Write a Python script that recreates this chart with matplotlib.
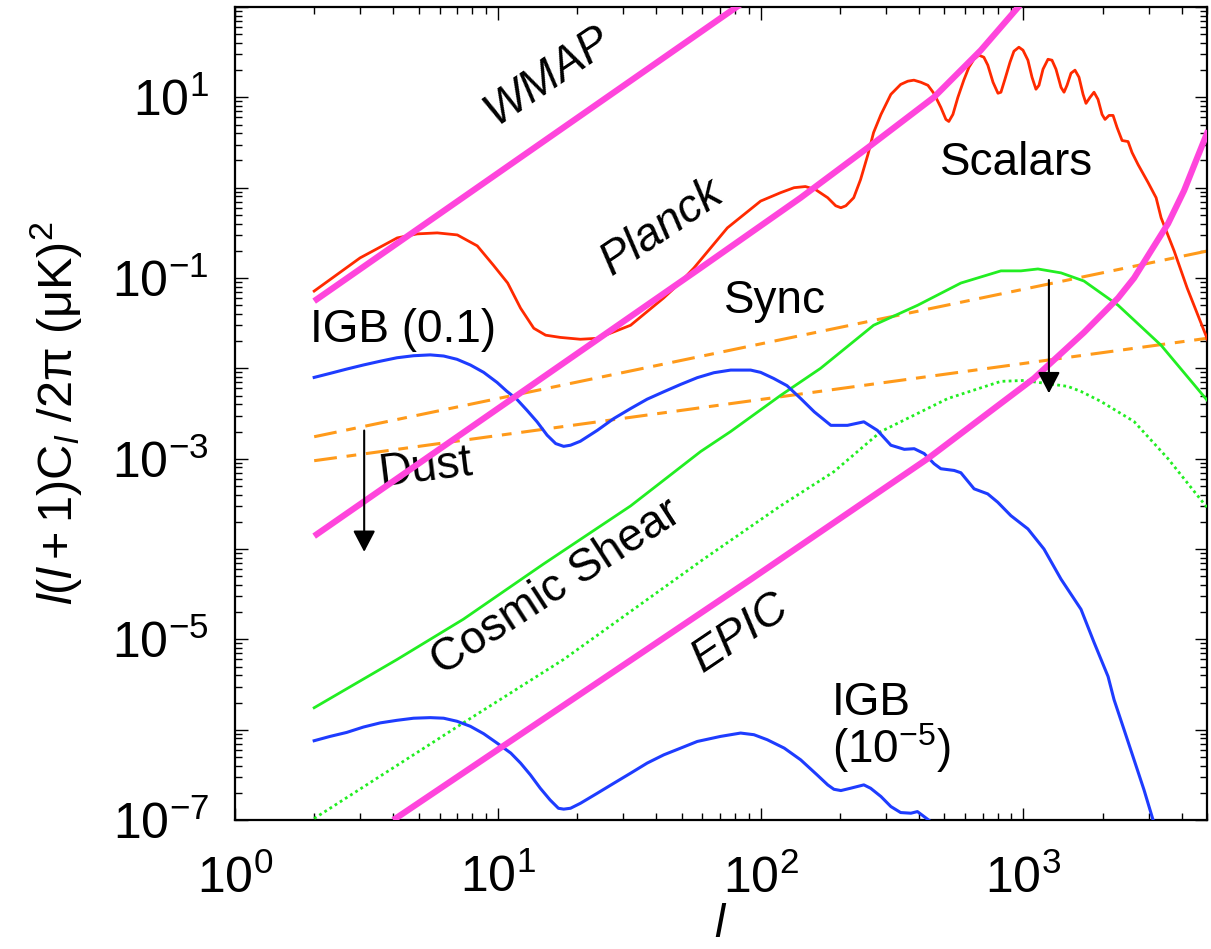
import numpy as np
import matplotlib
matplotlib.use('Agg')
import matplotlib.pyplot as plt
from matplotlib.ticker import FixedLocator, FuncFormatter, LogLocator, NullFormatter

plt.rcParams['font.family'] = ['Liberation Sans', 'DejaVu Sans']
plt.rcParams['mathtext.fontset'] = 'custom'
plt.rcParams['mathtext.rm'] = 'Liberation Sans'
plt.rcParams['mathtext.it'] = 'Liberation Sans:italic'
plt.rcParams['mathtext.bf'] = 'Liberation Sans:bold'
plt.rcParams['mathtext.sf'] = 'Liberation Sans'

# ---------------- data ----------------
scalars_l = [2, 2.99, 4.14, 4.93, 5.88, 7.01, 8.35, 9.61, 10.9, 12.2, 13.7, 15.2, 17.3,
             20.6, 23.9, 32.0, 42.7, 48.3, 55.7, 74.7, 100, 119, 134, 148, 162, 180,
             193, 202, 211, 226, 240, 256, 269, 287, 313, 341, 363, 383, 407, 433, 456,
             485, 507, 520, 539, 563, 593, 620, 648, 677, 707, 732, 766, 800, 821, 850,
             889, 920, 961, 996, 1040, 1078, 1116, 1146, 1187, 1240, 1284, 1330, 1390,
             1427, 1465, 1517, 1571, 1627, 1686, 1730, 1792, 1856, 1922, 1991, 2044,
             2117, 2193, 2271, 2373, 2501, 2590, 2731, 2981, 3198, 3341, 3744, 4198, 5046]
scalars_v = [0.0717, 0.167, 0.278, 0.308, 0.316, 0.300, 0.227, 0.139, 0.088, 0.0464,
             0.0278, 0.0233, 0.0220, 0.021, 0.0215, 0.030, 0.060, 0.0836, 0.129, 0.359,
             0.711, 0.88, 1.0, 1.03, 0.95, 0.774, 0.631, 0.60, 0.631, 0.774, 1.23, 2.33,
             4.08, 6.47, 10.8, 13.9, 15.1, 15.5, 14.7, 13.6, 11.1, 7.74, 5.70, 5.41, 6.47,
             10.0, 15.5, 21.5, 26.4, 29.3, 27.8, 22.7, 14.7, 11.1, 11.4, 15.8, 24.5, 32.4,
             35.9, 33.3, 25.8, 16.7, 12.3, 13.6, 20.5, 26.4, 25.8, 20.5, 12.9, 11.4, 13.6,
             18.5, 20.0, 16.7, 10.8, 8.58, 10.0, 11.4, 9.5, 6.47, 5.70, 6.31, 6.31, 4.64,
             3.33, 3.24, 2.45, 1.80, 1.14, 0.774, 0.464, 0.20, 0.0774, 0.020]

shear_l = [2, 4.14, 7.39, 14.9, 32.0, 59.1, 76.9, 119, 169, 269, 396, 578, 821, 978,
           1135, 1390, 1700, 2291, 3341, 5046]
shear_v = [1.75e-6, 6.0e-6, 1.67e-5, 6.81e-5, 3.0e-4, 1.2e-3, 2.0e-3, 5.01e-3, 0.010,
           0.030, 0.050, 0.088, 0.12, 0.12, 0.126, 0.114, 0.0926, 0.050, 0.018, 4.3e-3]

shear_res_l = [2, 7.39, 17.8, 60.7, 119, 190, 287, 516, 821, 1004, 1477, 1656, 1973,
               2636, 3550, 5046]
shear_res_v = [1.04e-7, 1.19e-6, 6.0e-6, 7.74e-5, 3.0e-4, 7.18e-4, 2.0e-3, 4.64e-3,
               7.18e-3, 7.35e-3, 6.31e-3, 5.55e-3, 4.3e-3, 2.58e-3, 1.0e-3, 2.78e-4]

igb_hi_l = [2, 2.30, 2.66, 3.08, 3.57, 4.13, 4.78, 5.53, 6.22, 6.99, 7.86, 8.83, 9.93,
            10.8, 11.8, 12.9, 14.1, 15.4, 16.6, 17.8, 18.9, 20.6, 23.9, 27.6, 32.0,
            37.0, 42.8, 49.6, 57.4, 66.4, 76.9, 91.6, 100, 112, 126, 142, 160, 185,
            214, 247, 278, 313, 352, 384, 419, 457, 485, 545, 578, 649, 731, 798, 896,
            1040, 1197, 1390, 1656, 1856, 2099, 2212, 2415, 2636, 2877, 3114]
igb_hi_v = [7.94e-3, 8.80e-3, 9.82e-3, 0.0109, 0.0120, 0.0131, 0.0138, 0.0141, 0.0137,
            0.0126, 0.0109, 9.03e-3, 6.99e-3, 5.60e-3, 4.56e-3, 3.44e-3, 2.56e-3,
            1.82e-3, 1.47e-3, 1.37e-3, 1.41e-3, 1.56e-3, 2.06e-3, 2.78e-3, 3.59e-3,
            4.56e-3, 5.51e-3, 6.64e-3, 7.89e-3, 8.95e-3, 9.57e-3, 9.57e-3, 9.03e-3,
            7.74e-3, 6.43e-3, 4.64e-3, 3.30e-3, 2.34e-3, 2.34e-3, 2.56e-3, 2.06e-3,
            1.41e-3, 1.27e-3, 1.29e-3, 1.14e-3, 8.80e-4, 7.74e-4, 7.41e-4, 6.99e-4,
            4.64e-4, 4.08e-4, 3.30e-4, 2.34e-4, 1.67e-4, 1.0e-4, 4.64e-5, 2.15e-5,
            9.27e-6, 3.88e-6, 2.15e-6, 1.0e-6, 4.64e-7, 2.15e-7, 1.0e-7]

igb_lo_l = [2, 2.30, 2.66, 3.08, 3.57, 4.13, 4.78, 5.53, 6.22, 6.99, 7.86, 8.83, 9.93,
            11.2, 12.2, 13.3, 14.5, 15.8, 17.0, 17.8, 18.9, 20.6, 23.9, 27.6, 32.0,
            37.0, 42.8, 49.6, 57.4, 70.4, 83.9, 94.3, 106, 123, 142, 164, 180, 190,
            202, 220, 247, 262, 287, 313, 341, 373, 395, 419, 444]
igb_lo_v = [7.55e-7, 8.43e-7, 9.33e-7, 1.07e-6, 1.19e-6, 1.27e-6, 1.34e-6, 1.36e-6,
            1.34e-6, 1.24e-6, 1.09e-6, 9.03e-7, 7.11e-7, 5.51e-7, 4.27e-7, 3.16e-7,
            2.25e-7, 1.67e-7, 1.35e-7, 1.32e-7, 1.35e-7, 1.53e-7, 1.98e-7, 2.55e-7,
            3.30e-7, 4.27e-7, 5.27e-7, 6.25e-7, 7.41e-7, 8.43e-7, 9.18e-7, 8.80e-7,
            7.74e-7, 6.25e-7, 4.64e-7, 3.16e-7, 2.45e-7, 2.19e-7, 2.12e-7, 2.25e-7,
            2.45e-7, 2.25e-7, 1.82e-7, 1.41e-7, 1.21e-7, 1.19e-7, 1.24e-7, 1.09e-7, 9.6e-8]

sync_l = [2, 5046]
sync_v = [1.75e-3, 0.20]
dust_l = [2, 5046]
dust_v = [9.5e-4, 0.0216]

wmap_l = [2, 86]
wmap_v = [0.0555, 113]
planck_l = [2, 59, 142, 256, 456, 689, 978]
planck_v = [1.39e-4, 0.129, 0.774, 2.78, 10.0, 33.3, 108]
epic_l = [4, 92, 432, 1096, 1700, 2291, 2636, 3550, 4087, 4540, 5046]
epic_v = [1e-7, 4.64e-5, 1e-3, 7.74e-3, 0.025, 0.06, 0.10, 0.40, 0.93, 2.0, 4.3]

dust_arrow = ((3.1, 2.05e-3), (3.1, 9.3e-5))
shear_arrow = ((1250, 0.095), (1250, 5.3e-3))

# ---------------- figure ----------------
MAG = '#FF45DC'
RED = '#FF2A00'
BLUE = '#1E3CFF'
GREEN = '#22EE22'
ORANGE = '#FF9A1A'

fig = plt.figure(figsize=(12.11, 9.49), dpi=100)
ax = fig.add_axes([0.1941, 0.1359, 0.8027, 0.8567])
ax.set_xscale('log')
ax.set_yscale('log')

dash = (0, (7.5, 3.2, 3.2, 3.2))
ax.plot(sync_l, sync_v, color=ORANGE, lw=2.2, ls=dash, zorder=2)
ax.plot(dust_l, dust_v, color=ORANGE, lw=2.2, ls=dash, zorder=2)
ax.plot(scalars_l, scalars_v, color=RED, lw=2.0, zorder=3)
ax.plot(shear_l, shear_v, color=GREEN, lw=2.0, zorder=3)
ax.plot(shear_res_l, shear_res_v, color=GREEN, lw=2.0, ls=(0, (1, 1.2)), zorder=3)
ax.plot(igb_hi_l, igb_hi_v, color=BLUE, lw=2.2, zorder=3)
ax.plot(igb_lo_l, igb_lo_v, color=BLUE, lw=2.2, zorder=3)
for xl, yv in ((wmap_l, wmap_v), (planck_l, planck_v), (epic_l, epic_v)):
    ax.plot(xl, yv, color=MAG, lw=4.5, solid_capstyle='butt', zorder=4)

for (x0, y0), (x1, y1) in (dust_arrow, shear_arrow):
    ax.annotate('', xy=(x1, y1), xytext=(x0, y0),
                arrowprops=dict(arrowstyle='-|>,head_length=0.65,head_width=0.34',
                                color='black', lw=1.5, mutation_scale=20,
                                shrinkA=0, shrinkB=0), zorder=6)

ax.set_xlim(1, 5000)
ax.set_ylim(1e-7, 1e2)

ax.xaxis.set_major_locator(FixedLocator([1, 10, 100, 1000]))
ax.xaxis.set_minor_locator(LogLocator(base=10, subs=np.arange(2, 10), numticks=20))
ax.xaxis.set_minor_formatter(NullFormatter())
ax.xaxis.set_major_formatter(FuncFormatter(lambda v, p: r'$\mathregular{10^{%d}}$' % round(np.log10(v))))

ax.yaxis.set_major_locator(FixedLocator([10.0 ** k for k in range(-7, 3)]))
ax.yaxis.set_minor_locator(LogLocator(base=10, subs=np.arange(2, 10), numticks=20))
ax.yaxis.set_minor_formatter(NullFormatter())

def yfmt(v, p):
    k = int(round(np.log10(v)))
    return r'$\mathregular{10^{%d}}$' % k if k % 2 else ''
ax.yaxis.set_major_formatter(FuncFormatter(yfmt))

ax.tick_params(which='both', direction='in', top=True, right=True, width=1.0, labelsize=36)
ax.tick_params(which='major', length=9)
ax.tick_params(which='minor', length=5)
ax.tick_params(axis='y', pad=19)
ax.tick_params(axis='x', pad=25)
for s in ax.spines.values():
    s.set_linewidth(1.6)

ax.set_xlabel(r'$\mathit{l}$', fontsize=33, labelpad=0)
ax.set_ylabel(r'$\mathit{l(l+1)}\mathrm{C}_{\mathit{l}}$ /2π (μK)$^{2}$', fontsize=35, labelpad=20)

FS = 33
T = ax.transAxes
ax.text(0.321, 0.915, 'WMAP', style='italic', fontsize=FS, rotation=34, ha='center', va='center', transform=T)
ax.text(0.4393, 0.7282, 'Planck', style='italic', fontsize=FS, rotation=34, ha='center', va='center', transform=T)
ax.text(0.8035, 0.7934, 'Scalars', fontsize=FS, ha='center', va='baseline', transform=T)
ax.text(0.5556, 0.6236, 'Sync', fontsize=FS, ha='center', va='baseline', transform=T)
ax.text(0.0772, 0.588, 'IGB (0.1)', fontsize=FS, ha='left', va='baseline', transform=T)
ax.text(0.1955, 0.433, 'Dust', fontsize=FS, rotation=7, ha='center', va='center', transform=T)
ax.text(0.330, 0.2854, 'Cosmic Shear', fontsize=FS, rotation=33, ha='center', va='center', transform=T)
ax.text(0.5195, 0.230, 'EPIC', style='italic', fontsize=FS, rotation=34, ha='center', va='center', transform=T)
ax.text(0.6142, 0.129, 'IGB', fontsize=FS, ha='left', va='baseline', transform=T)
ax.text(0.6142, 0.0701, r'(10$^{-5}$)', fontsize=FS, ha='left', va='baseline', transform=T)

fig.savefig('out.png', dpi=100)
